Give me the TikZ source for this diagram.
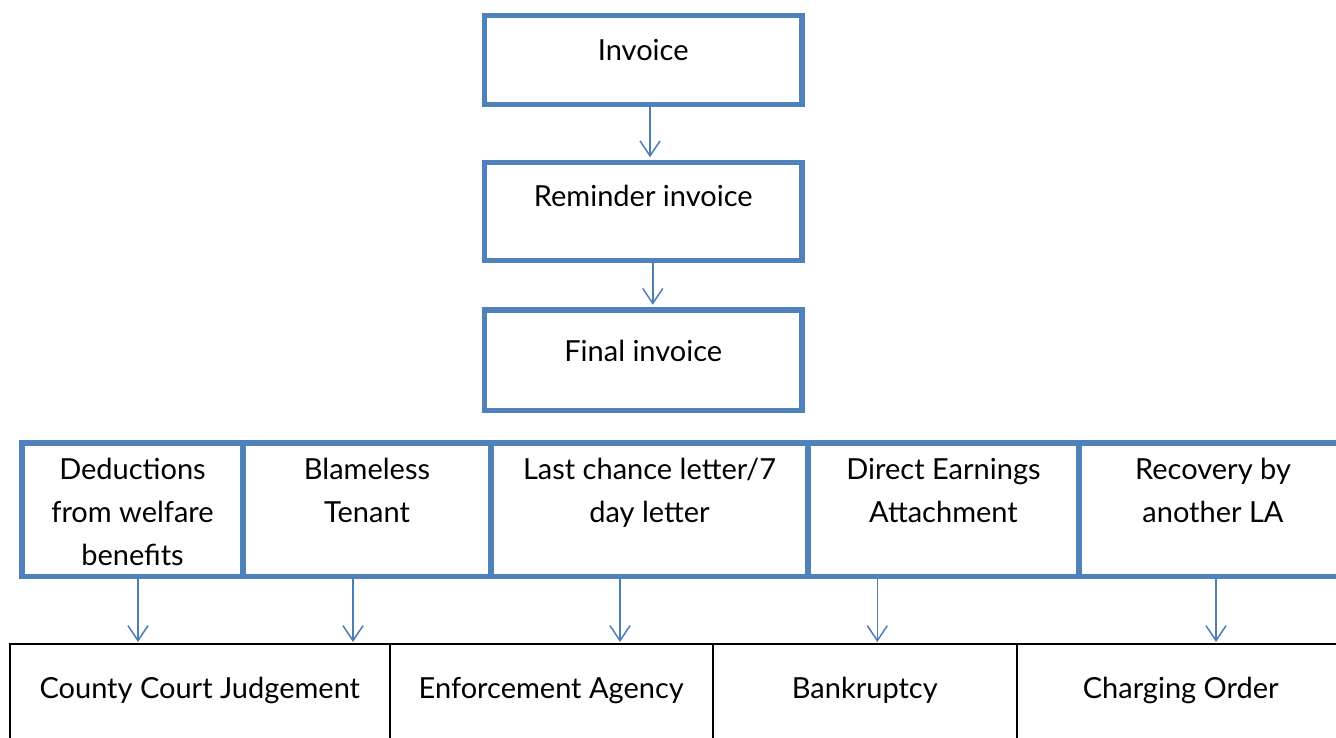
\documentclass[tikz,border=0pt]{standalone}
\usepackage{fontspec}
\setmainfont{Lato}
\usepackage{tikz}
\usepackage{xcolor}
\usetikzlibrary{arrows.meta, positioning, calc}

\definecolor{boxblue}{HTML}{4F81BD}
\definecolor{arrowblue}{HTML}{4A7EBB}

% box text: width, height, distance from top to first baseline, text
\newcommand{\boxtext}[4]{%
  \begin{minipage}[t][#2][t]{#1}\centering\rule{0pt}{#3}#4\end{minipage}}

\tikzset{
  flowbox/.style={draw=boxblue, line width=5.5pt, inner sep=0pt,
    font=\fontsize{29}{43}\selectfont},
  endbox/.style={draw=black, line width=2pt, inner sep=0pt,
    font=\fontsize{29}{43}\selectfont},
  flowarrow/.style={draw=arrowblue, line width=1.5pt,
    -{Straight Barb[length=15pt,width=20pt]}}
}

\begin{document}
\begin{tikzpicture}[x=1pt,y=-1pt]
\useasboundingbox (0,0) rectangle (1336,737);
\clip (0,0) rectangle (1336,737);

% invoice stages
\node[flowbox] (inv) at (643.25,60) {\boxtext{317.5pt}{89pt}{44.5pt}{Invoice}};
\node[flowbox] (rem) at (643.25,211.5) {\boxtext{317.5pt}{98pt}{44pt}{Reminder invoice}};
\node[flowbox] (fin) at (643.25,360.25) {\boxtext{317.5pt}{100.5pt}{51.5pt}{Final invoice}};

% recovery options
\node[flowbox] (ded) at (132.5,509.75) {\boxtext{221pt}{133.5pt}{36.3pt}{Deductions\\ from welfare\\ benefits}};
\node[flowbox] (bla) at (367,509.75) {\boxtext{248pt}{133.5pt}{36.3pt}{Blameless\\ Tenant}};
\node[flowbox] (lcl) at (649.5,509.75) {\boxtext{318pt}{133.5pt}{36.3pt}{Last chance letter/7\\ day letter}};
\node[flowbox] (dea) at (943.5,509.75) {\boxtext{271pt}{133.5pt}{36.3pt}{Direct Earnings\\ Attachment}};
\node[flowbox] (rla) at (1213,509.75) {\boxtext{268pt}{133.5pt}{36.3pt}{Recovery by\\ another LA}};

% enforcement
\node[endbox] (ccj) at (199.75,702) {\boxtext{379.5pt}{116pt}{54pt}{County Court Judgement}};
\node[endbox] (enf) at (551.25,702) {\boxtext{323.5pt}{116pt}{54pt}{Enforcement Agency}};
\node[endbox] (bnk) at (864.75,702) {\boxtext{303.5pt}{116pt}{54pt}{Bankruptcy}};
\node[endbox] (chg) at (1180.75,702) {\boxtext{328.5pt}{116pt}{54pt}{Charging Order}};

\draw[flowarrow, shorten >=2.5pt] ([xshift=6.75pt]inv.south) -- ([xshift=6.75pt]inv.south |- rem.north);
\draw[flowarrow, shorten >=2.5pt] ([xshift=9.5pt]rem.south) -- ([xshift=9.5pt]rem.south |- fin.north);
\foreach \src/\dst/\dx in {ded/ccj/5.5, bla/ccj/-14, lcl/enf/-29.5, dea/bnk/-66.2, rla/chg/3} {
    \draw[flowarrow, shorten >=1pt] ([xshift=\dx pt]\src.south) -- ([xshift=\dx pt]\src.south |- \dst.north);
}
\end{tikzpicture}
\end{document}
